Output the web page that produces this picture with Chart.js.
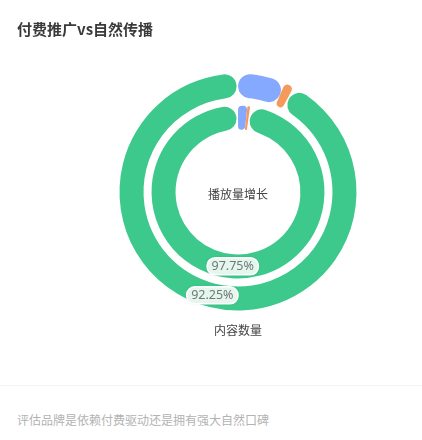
<!DOCTYPE html>
<html>
<head>
<meta charset="utf-8">
<script src="https://cdn.jsdelivr.net/npm/chart.js@4"></script>
<style>
  html, body { margin: 0; padding: 0; background: #fff; }
  body { width: 422px; height: 440px; position: relative; overflow: hidden;
         font-family: "Noto Sans CJK SC", "Noto Sans", sans-serif; }
  .title { position: absolute; left: 17px; top: 18px; font-size: 15px; font-weight: bold; color: #3a3a3a; }
  .chart-box { position: absolute; left: 0; top: 0; width: 422px; height: 380px; }
  .divider { position: absolute; left: 0; right: 0; top: 385px; border-top: 1px solid #f2f2f2; }
  .footer { position: absolute; left: 17px; top: 411px; font-size: 12px; color: #b3b3b3; }
</style>
</head>
<body>
<div class="chart-box"><canvas id="sourceChart"></canvas></div>
<div class="title">付费推广vs自然传播</div>
<div class="divider"></div>
<div class="footer">评估品牌是依赖付费驱动还是拥有强大自然口碑</div>
<script>
const categories = ['付费推广', '混合', '自然传播'];
const ringNames = ['内容数量', '播放量增长'];
const contentValues = [6.5, 1.25, 92.25];
const playValues = [1.75, 0.5, 97.75];
const colors = ['#85a9ff', '#f59a5b', '#3cc98b'];

document.addEventListener('DOMContentLoaded', function () {
  const labelPlugin = {
    id: 'ringLabels',
    afterDatasetsDraw(chart) {
      const ctx = chart.ctx;
      const outer = chart.getDatasetMeta(0);
      const first = outer.data[0];
      const cx = first.x, cy = first.y;
      ctx.save();
      ctx.textAlign = 'center';
      ctx.textBaseline = 'middle';
      ctx.font = '12px "Noto Sans CJK SC", "Noto Sans", sans-serif';
      ctx.fillStyle = '#444';
      ctx.fillText(ringNames[1], cx, cy + 2);
      ctx.fillText(ringNames[0], cx, cy + first.outerRadius + 20);

      [0, 2].forEach(function (di) {
        const meta = chart.getDatasetMeta(di);
        const values = chart.data.datasets[di].data;
        const idx = values.indexOf(Math.max.apply(null, values));
        const pos = meta.data[idx].tooltipPosition();
        const text = values[idx].toFixed(2) + '%';
        ctx.font = '12.5px "Noto Sans", sans-serif';
        const w = ctx.measureText(text).width + 9;
        const h = 17;
        ctx.shadowColor = 'rgba(0,0,0,0.12)';
        ctx.shadowBlur = 3;
        ctx.beginPath();
        ctx.roundRect(pos.x - w / 2, pos.y - h / 2, w, h, 8);
        ctx.fillStyle = '#e6f6ef';
        ctx.fill();
        ctx.shadowBlur = 0;
        ctx.lineWidth = 1.5;
        ctx.strokeStyle = '#ffffff';
        ctx.stroke();
        ctx.fillStyle = '#6b7a75';
        ctx.fillText(text, pos.x, pos.y + 0.5);
      });
      ctx.restore();
    }
  };

  const ctx = document.getElementById('sourceChart').getContext('2d');
  new Chart(ctx, {
    type: 'doughnut',
    data: {
      labels: categories,
      datasets: [
        { label: ringNames[0], data: contentValues, backgroundColor: colors,
          borderWidth: 0, borderRadius: 12, spacing: 1, weight: 1 },
        { label: 'gap', data: [1], backgroundColor: ['rgba(0,0,0,0)'],
          borderWidth: 0, weight: 1 / 3 },
        { label: ringNames[1], data: playValues, backgroundColor: colors,
          borderWidth: 0, borderRadius: 12, spacing: 1, weight: 1 }
      ]
    },
    options: {
      responsive: true,
      maintainAspectRatio: false,
      animation: false,
      radius: 118,
      cutout: '52.5%',
      layout: { padding: { left: 54, right: 0, top: 4, bottom: 0 } },
      plugins: {
        legend: { display: false },
        tooltip: { enabled: false }
      }
    },
    plugins: [labelPlugin]
  });
});
</script>
</body>
</html>
